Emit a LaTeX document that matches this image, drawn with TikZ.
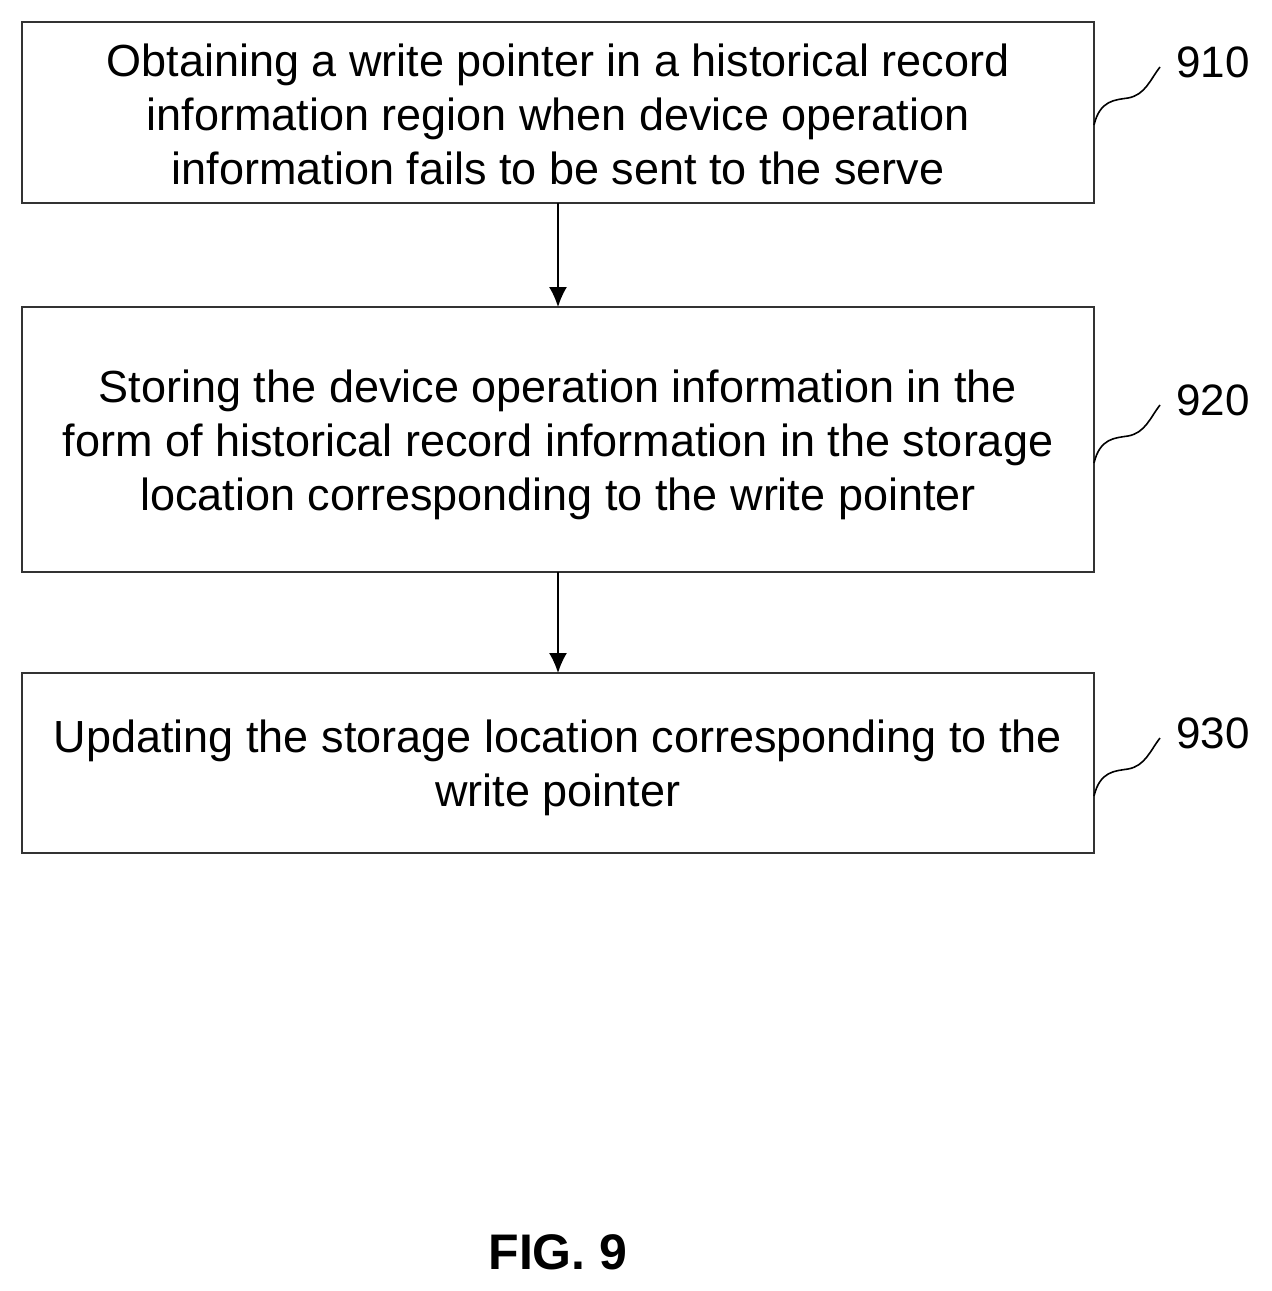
\documentclass[tikz,border=0pt]{standalone}
\usepackage{fontspec}
\usetikzlibrary{arrows.meta}
\setmainfont{Liberation Sans}
\begin{document}
\begin{tikzpicture}[x=0.5pt,y=-0.5pt,
  box/.style={draw=black!80,line width=1.4pt},
  txt/.style={align=center,font=\fontsize{22.5}{27}\selectfont},
  lab/.style={font=\fontsize{22}{24}\selectfont},
  arr/.style={-{Latex[length=10pt,width=9pt]},line width=0.8pt},
  sq/.style={line width=0.8pt}]
\useasboundingbox (0,0) rectangle (1271,1291);
\draw[box] (22,22) rectangle (1094,203);
\draw[box] (22,307) rectangle (1094,572);
\draw[box] (22,673) rectangle (1094,853);
\node[txt] (t1) at (558,114) {Obtaining a write pointer in a historical record\\information region when device operation\\information fails to be sent to the serve};
\node[txt] (t2) at (558,445) {Storing the device operation information in the\\form of historical record information in the storage\\location corresponding to the write pointer};
\node[txt] (t3) at (558,768) {Updating the storage location corresponding to the\\write pointer};
\coordinate (a1) at (558,203); \coordinate (b1) at (558,307);
\coordinate (a2) at (558,572); \coordinate (b2) at (558,673);
\draw[arr] (a1) -- (b1);
\draw[arr] (a2) -- (b2);
\node[lab] (l1) at (1213,62) {910};
\node[lab] (l2) at (1213,400) {920};
\node[lab] (l3) at (1213,733) {930};
\foreach \y/\l in {125/910,463/920,796/930}{
  \draw[sq] (1094,\y) .. controls (1100,\y-25) and (1115,\y-25) .. (1128,\y-27)
    .. controls (1145,\y-30) and (1150,\y-45) .. (1160,\y-58);
}
\node[font=\bfseries\fontsize{25}{28}\selectfont] (fig) at (558,1252) {FIG. 9};
\end{tikzpicture}
\end{document}
